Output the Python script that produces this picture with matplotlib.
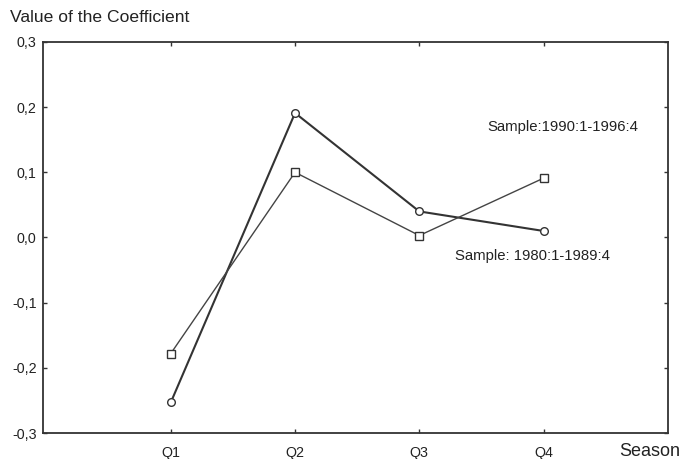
import matplotlib
matplotlib.use("Agg")
import matplotlib.pyplot as plt

plt.rcParams['font.family'] = ['Liberation Sans', 'DejaVu Sans']

seasons = ["Q1", "Q2", "Q3", "Q4"]
coef_1990_1996 = [-0.253, 0.191, 0.040, 0.010]
coef_1980_1989 = [-0.178, 0.100, 0.003, 0.091]
yticks = [-0.3, -0.2, -0.1, 0.0, 0.1, 0.2, 0.3]
ytick_labels = ["-0,3", "-0,2", "-0,1", "0,0", "0,1", "0,2", "0,3"]

fig = plt.figure(figsize=(6.8, 4.59), dpi=100)
ax = fig.add_axes([0.063, 0.0566, 0.919, 0.852])

xs = list(range(1, len(seasons) + 1))
ax.plot(xs, coef_1990_1996, color="#333333", lw=1.5, marker="o", ms=5.5,
        mfc="white", mec="#333333", mew=1.0, zorder=3)
ax.plot(xs, coef_1980_1989, color="#444444", lw=1.0, marker="s", ms=6,
        mfc="white", mec="#333333", mew=1.0, zorder=3)

ax.set_xlim(-0.03, 5.0)
ax.set_ylim(-0.3, 0.3)
ax.set_xticks(xs)
ax.set_xticklabels(seasons)
ax.set_yticks(yticks)
ax.set_yticklabels(ytick_labels)
ax.tick_params(direction="in", length=3, width=1, color="#333333",
               labelsize=10.3, labelcolor="#222222", top=True, right=True)
ax.tick_params(axis="x", pad=9)
ax.tick_params(axis="y", pad=4.5)
for sp in ax.spines.values():
    sp.set_linewidth(1.3)
    sp.set_color("#333333")

ax.text(4.153, 0.169, "Sample:1990:1-1996:4", fontsize=10.7, color="#222222",
        ha="center", va="center")
ax.text(3.91, -0.028, "Sample: 1980:1-1989:4", fontsize=10.7, color="#222222",
        ha="center", va="center")

fig.text(10 / 680, 1 - 17 / 459, "Value of the Coefficient", fontsize=12.6,
         color="#222222", ha="left", va="center")
fig.text(1.0, 1 - 451 / 459, "Season", fontsize=13, color="#222222",
         ha="right", va="center")

fig.savefig("out.png", dpi=100)
